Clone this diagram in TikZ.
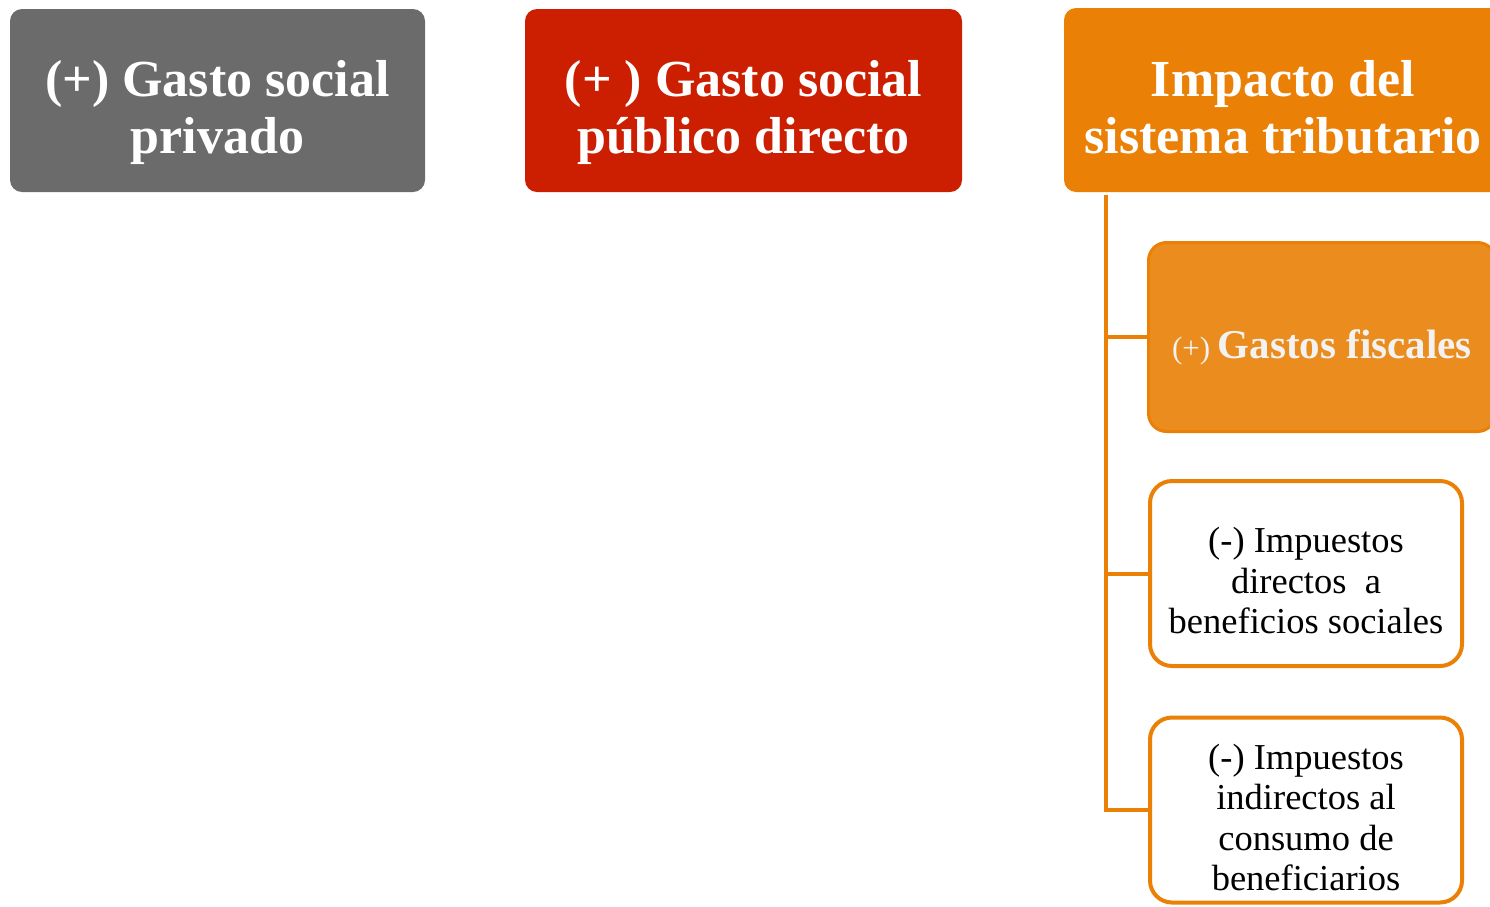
\documentclass[tikz,border=0pt]{standalone}
\usepackage{fontspec}
\setmainfont{Liberation Serif}
\definecolor{grayfill}{HTML}{6B6B6B}
\definecolor{redfill}{HTML}{CC1E00}
\definecolor{orangefill}{HTML}{EB8006}
\definecolor{orangelight}{HTML}{EB8C1E}
\definecolor{offwhite}{HTML}{F2F2F2}
\begin{document}
\begin{tikzpicture}[x=1pt,y=-1pt,
  topbox/.style={rounded corners=12pt, text=white, align=center, inner sep=0pt,
    text height=118pt, font=\bfseries\fontsize{52}{57}\selectfont},
  gfbox/.style={rounded corners=18pt, draw=orangefill, line width=3pt, fill=orangelight,
    text=offwhite, align=center, inner sep=0pt, text height=49pt},
  subbox/.style={rounded corners=22pt, draw=orangefill, line width=4pt, fill=white,
    text=black, align=center, inner sep=0pt,
    font=\fontsize{36.5}{40.5}\selectfont},
  conn/.style={draw=orangefill, line width=4pt}]
\useasboundingbox (0,0) rectangle (1490,906);
\clip (0,0) rectangle (1490,906);
\node[topbox, fill=grayfill, minimum width=415pt, minimum height=183pt] (priv) at (217.5,100.5)
  {(+) Gasto social\\privado};
\node[topbox, fill=redfill, minimum width=437pt, minimum height=183pt] (pub) at (743.5,100.5)
  {(+ ) Gasto social\\público directo};
\node[topbox, text height=107pt, fill=orangefill, minimum width=438pt, minimum height=184pt] (hdr) at (1283,100)
  {Impacto del\\sistema tributario};
\node[gfbox, minimum width=347pt, minimum height=189pt] (gf) at (1322,337)
  {{\fontsize{31}{36}\selectfont(+)\ }{\bfseries\fontsize{41}{46}\selectfont Gastos fiscales}};
\node[subbox, text height=121pt, minimum width=312pt, minimum height=185pt] (b3) at (1306,573.5)
  {(-) Impuestos\\directos\ \ a\\beneficios sociales};
\node[subbox, text height=162pt, minimum width=312pt, minimum height=185pt] (b4) at (1306,810)
  {(-) Impuestos\\indirectos al\\consumo de\\beneficiarios};
\coordinate (trunk) at ([xshift=42pt,yshift=-3pt]hdr.south west);
\draw[conn] (trunk) |- (gf.west);
\draw[conn] (trunk) |- (b3.west);
\draw[conn] (trunk) |- (b4.west);
\end{tikzpicture}
\end{document}
